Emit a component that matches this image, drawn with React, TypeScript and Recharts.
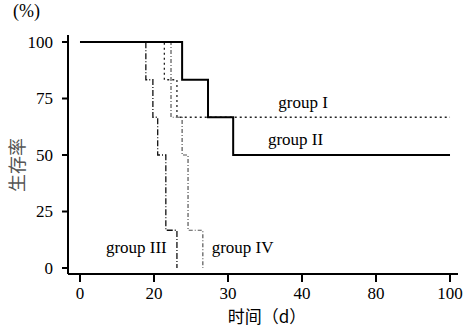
import { LineChart, Line, XAxis, YAxis, ReferenceDot } from 'recharts';

// x axis is broken: every interval between these ticks gets the same width
const dayTicks = [0, 20, 30, 40, 80, 100];
const survivalTicks = [0, 25, 50, 75, 100];

const group1Days = [0, 21.4, 23.1, 100];
const group1Survival = [100, 83.3, 66.7, 66.7];

const group2Days = [0, 23.8, 27.3, 30.7, 100];
const group2Survival = [100, 83.3, 66.7, 50, 50];

const group3Days = [0, 17.8, 19.7, 20.5, 21.6, 23.1];
const group3Survival = [100, 83.3, 66.7, 50, 16.7, 0];

const group4Days = [0, 22.3, 23.8, 24.6, 26.6];
const group4Survival = [100, 66.7, 50, 16.7, 0];

// label anchors (day, survival %), left edge of each text
const groupLabels = [
  { text: 'group I', day: 36.8, survival: 73.5 },
  { text: 'group II', day: 35.4, survival: 57 },
  { text: 'group III', day: 7.0, survival: 9.5 },
  { text: 'group IV', day: 27.8, survival: 9.5 },
];

const serif = '"Liberation Serif", "DejaVu Serif", serif';
const cjk = '"Noto Sans CJK SC", sans-serif';

function toPos(day: number): number {
  for (let i = 1; i < dayTicks.length; i++) {
    if (day <= dayTicks[i]) {
      const lo = dayTicks[i - 1];
      return i - 1 + (day - lo) / (dayTicks[i] - lo);
    }
  }
  return dayTicks.length - 1;
}

function toSeries(days: number[], survival: number[]) {
  return days.map((d, i) => ({ pos: toPos(d), survival: survival[i] }));
}

function XTick(props: any) {
  const { x, y, payload } = props;
  return (
    <text x={x} y={y} dy="0.71em" textAnchor="middle" fill="#000" fontSize={17} fontFamily={serif}>
      {dayTicks[Math.round(payload.value)]}
    </text>
  );
}

function YTick(props: any) {
  const { x, y, payload } = props;
  return (
    <text x={x} y={y} dy="0.35em" textAnchor="end" fill="#000" fontSize={17} fontFamily={serif}>
      {payload.value}
    </text>
  );
}

export default function App() {
  return (
    <div style={{ position: 'absolute', left: 0, top: 0, width: 463, height: 327, background: '#fff', fontFamily: serif }}>
      <LineChart width={463} height={327} margin={{ top: 35, right: 5, left: 0, bottom: 0 }}>
        <XAxis
          type="number"
          dataKey="pos"
          domain={[-0.162, 5.108]}
          ticks={dayTicks.map((_, i) => i)}
          height={53}
          tickSize={8}
          tickMargin={5}
          tick={<XTick />}
          stroke="#000"
          strokeWidth={2}
          allowDataOverflow
        />
        <YAxis
          type="number"
          domain={[-2.65, 103.1]}
          ticks={survivalTicks}
          width={68}
          tickSize={6}
          tickMargin={9}
          tick={<YTick />}
          stroke="#000"
          strokeWidth={2}
          allowDataOverflow
        />
        <Line
          data={toSeries(group1Days, group1Survival)}
          dataKey="survival"
          type="stepAfter"
          stroke="#222"
          strokeWidth={1.3}
          strokeDasharray="2 3"
          dot={false}
          isAnimationActive={false}
        />
        <Line
          data={toSeries(group4Days, group4Survival)}
          dataKey="survival"
          type="stepAfter"
          stroke="#555"
          strokeWidth={1.2}
          strokeDasharray="4 2 1 2"
          dot={false}
          isAnimationActive={false}
        />
        <Line
          data={toSeries(group3Days, group3Survival)}
          dataKey="survival"
          type="stepAfter"
          stroke="#111"
          strokeWidth={1.3}
          strokeDasharray="6 2 1 2"
          dot={false}
          isAnimationActive={false}
        />
        <Line
          data={toSeries(group2Days, group2Survival)}
          dataKey="survival"
          type="stepAfter"
          stroke="#000"
          strokeWidth={2}
          dot={false}
          isAnimationActive={false}
        />
        {groupLabels.map((g) => (
          <ReferenceDot
            key={g.text}
            x={toPos(g.day)}
            y={g.survival}
            r={0}
            fill="none"
            stroke="none"
            label={{ value: g.text, position: 'right', offset: 0, fill: '#000', fontSize: 17, fontFamily: serif }}
          />
        ))}
      </LineChart>

      <span style={{ position: 'absolute', left: 13, top: 1, fontSize: 18, fontFamily: serif, color: '#000' }}>(%)</span>
      <span
        style={{
          position: 'absolute',
          left: 16,
          top: 165,
          transform: 'translate(-50%, -50%) rotate(-90deg)',
          fontSize: 18,
          fontFamily: cjk,
          color: '#555',
          whiteSpace: 'nowrap',
        }}
      >
        生存率
      </span>
      <span
        style={{
          position: 'absolute',
          left: 267,
          top: 315,
          transform: 'translate(-50%, -50%)',
          fontSize: 17,
          fontFamily: cjk,
          color: '#000',
          whiteSpace: 'nowrap',
        }}
      >
        时间（d）
      </span>
    </div>
  );
}
